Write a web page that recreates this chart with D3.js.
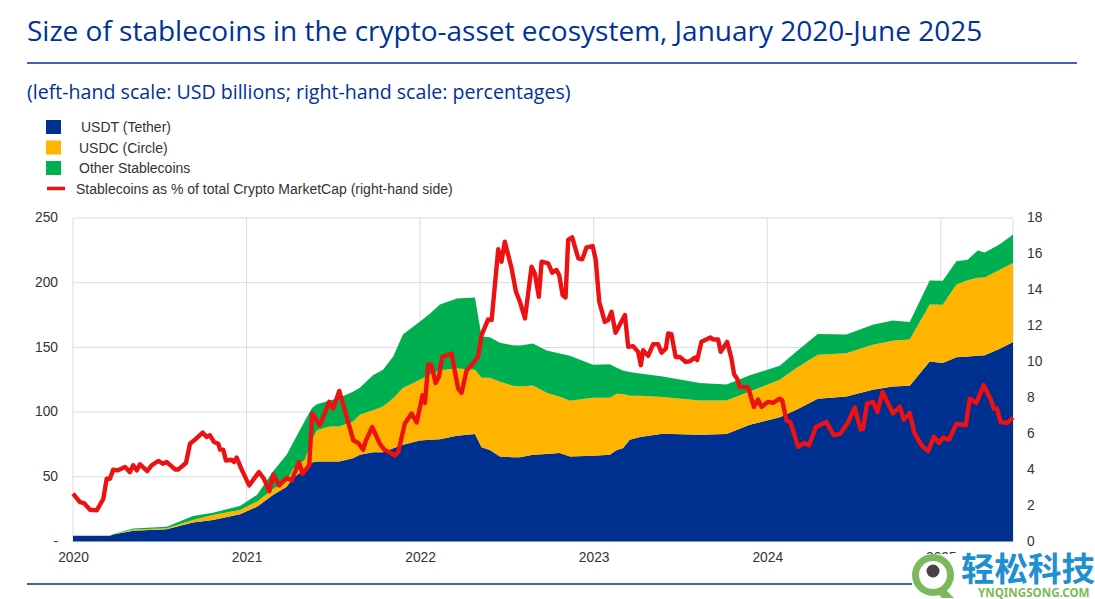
<!DOCTYPE html>
<html>
<head>
<meta charset="utf-8">
<script src="https://cdn.jsdelivr.net/npm/d3@7"></script>
<style>
  html, body { margin: 0; background: #fff; }
</style>
</head>
<body>
<div id="chart"></div>
<script>
// areas (fractional year, USD billions)
const areaYears = [2020.000, 2020.213, 2020.232, 2020.347, 2020.540, 2020.691, 2020.806, 2020.962, 2021.060, 2021.152, 2021.231, 2021.267, 2021.336, 2021.377, 2021.405, 2021.480, 2021.534, 2021.613, 2021.653, 2021.728, 2021.786, 2021.845, 2021.901, 2021.999, 2022.056, 2022.114, 2022.212, 2022.316, 2022.354, 2022.402, 2022.460, 2022.534, 2022.575, 2022.650, 2022.729, 2022.805, 2022.863, 2022.995, 2023.093, 2023.133, 2023.168, 2023.208, 2023.266, 2023.398, 2023.612, 2023.765, 2023.900, 2024.072, 2024.168, 2024.291, 2024.456, 2024.608, 2024.723, 2024.821, 2024.936, 2025.011, 2025.090, 2025.155, 2025.213, 2025.253, 2025.340, 2025.416]
const usdt = [4.5, 4.5, 5.4, 8.4, 9.4, 14.6, 16.6, 21.1, 26.9, 36, 42.4, 48.9, 56.1, 61.1, 61.8, 61.8, 61.8, 64.4, 67, 69, 69, 72.1, 74.7, 78, 78.6, 79.1, 81.7, 83, 72.9, 70.8, 65.6, 65.2, 65.2, 67, 67.7, 68.3, 65.6, 66.2, 67, 70.8, 72.1, 78.6, 80.7, 83.2, 82.4, 83, 90.2, 96.1, 101.8, 110.3, 112.1, 117.3, 119.8, 120.4, 139.2, 137.9, 142.3, 143, 143.6, 144, 149, 154.2]
const usdc = [0, 0, 0.2, 0.9, 0.8, 2.1, 3.9, 3.3, 3.9, 4.6, 3.9, 7.2, 7, 17.3, 24.1, 27.1, 27.1, 28.3, 31, 32.4, 35.3, 38.7, 43.9, 47, 50.3, 53.2, 51.9, 49.8, 53.6, 55.7, 57.8, 55.2, 54.6, 53.6, 47.2, 43.6, 43.1, 44.9, 44.1, 43.3, 41.8, 34, 32, 28.4, 26.6, 26, 25.8, 28.9, 32.2, 34.1, 33.4, 34.8, 35.4, 35.7, 43.9, 45.1, 56.3, 58.8, 60.3, 60.1, 61.1, 61.1]
const others = [0, 0, 0.2, 0.8, 1.2, 3.1, 1.8, 3.1, 5.2, 13.4, 20.7, 20.1, 30.2, 24.8, 20.1, 20.1, 22.2, 23, 20.9, 27.1, 28.4, 32.2, 41.3, 45.1, 47.2, 50.9, 54.2, 55.7, 32, 31.4, 30.2, 31.2, 31.7, 32.5, 32.8, 33.3, 34.8, 25.5, 25.8, 20.1, 18.3, 18.3, 17.1, 15.9, 13.5, 12.4, 12.4, 10.8, 12.8, 16, 14.5, 15.5, 15.5, 13.5, 18.6, 18.6, 18, 16, 21, 19.3, 19.7, 21.9]

// red line (fractional year, percent)
const shareYears = [2020.000, 2020.040, 2020.063, 2020.098, 2020.137, 2020.175, 2020.194, 2020.213, 2020.232, 2020.259, 2020.300, 2020.328, 2020.347, 2020.367, 2020.386, 2020.428, 2020.453, 2020.491, 2020.517, 2020.540, 2020.588, 2020.607, 2020.651, 2020.674, 2020.703, 2020.747, 2020.770, 2020.789, 2020.812, 2020.837, 2020.847, 2020.866, 2020.881, 2020.914, 2020.927, 2020.943, 2020.972, 2021.015, 2021.071, 2021.100, 2021.131, 2021.154, 2021.188, 2021.231, 2021.260, 2021.302, 2021.323, 2021.361, 2021.378, 2021.423, 2021.476, 2021.499, 2021.534, 2021.577, 2021.615, 2021.644, 2021.672, 2021.688, 2021.724, 2021.768, 2021.793, 2021.855, 2021.874, 2021.912, 2021.951, 2021.980, 2022.014, 2022.028, 2022.047, 2022.066, 2022.089, 2022.108, 2022.127, 2022.181, 2022.219, 2022.239, 2022.268, 2022.297, 2022.335, 2022.354, 2022.392, 2022.412, 2022.450, 2022.469, 2022.488, 2022.527, 2022.552, 2022.575, 2022.604, 2022.642, 2022.661, 2022.684, 2022.700, 2022.738, 2022.761, 2022.786, 2022.801, 2022.821, 2022.838, 2022.853, 2022.876, 2022.911, 2022.934, 2022.959, 2022.994, 2023.012, 2023.032, 2023.064, 2023.083, 2023.103, 2023.126, 2023.180, 2023.199, 2023.227, 2023.256, 2023.272, 2023.285, 2023.314, 2023.343, 2023.371, 2023.391, 2023.416, 2023.429, 2023.448, 2023.472, 2023.496, 2023.531, 2023.554, 2023.583, 2023.596, 2023.621, 2023.673, 2023.688, 2023.717, 2023.732, 2023.769, 2023.794, 2023.809, 2023.826, 2023.842, 2023.890, 2023.923, 2023.947, 2023.967, 2024.005, 2024.034, 2024.072, 2024.086, 2024.111, 2024.134, 2024.178, 2024.211, 2024.241, 2024.280, 2024.341, 2024.383, 2024.422, 2024.466, 2024.504, 2024.537, 2024.552, 2024.575, 2024.610, 2024.635, 2024.664, 2024.725, 2024.764, 2024.787, 2024.821, 2024.846, 2024.889, 2024.927, 2024.961, 2024.990, 2025.013, 2025.048, 2025.090, 2025.144, 2025.167, 2025.205, 2025.247, 2025.286, 2025.305, 2025.324, 2025.344, 2025.382, 2025.416]
const shareValues = [2.66, 2.19, 2.14, 1.77, 1.73, 2.38, 3.49, 3.49, 4.0, 3.96, 4.14, 3.86, 4.24, 3.96, 4.29, 3.92, 4.24, 4.48, 4.33, 4.42, 4.01, 4.01, 4.37, 5.44, 5.67, 6.06, 5.82, 5.91, 5.54, 5.44, 5.11, 5.11, 4.51, 4.55, 4.42, 4.67, 4.0, 3.12, 3.86, 3.49, 2.8, 3.73, 3.12, 3.53, 3.4, 4.42, 3.77, 4.24, 7.12, 6.47, 7.77, 7.4, 8.38, 6.93, 5.63, 5.48, 5.11, 5.63, 6.37, 5.44, 5.11, 4.79, 4.98, 6.56, 7.12, 6.62, 8.14, 7.71, 9.87, 9.81, 8.82, 9.16, 10.27, 10.46, 8.51, 8.27, 9.53, 9.81, 10.31, 11.48, 12.36, 12.32, 16.26, 15.57, 16.68, 15.2, 13.9, 13.34, 12.41, 15.29, 14.92, 13.62, 15.57, 15.48, 14.96, 15.11, 14.83, 13.71, 13.58, 16.78, 16.93, 15.76, 15.7, 16.37, 16.44, 15.66, 13.34, 12.22, 12.32, 12.78, 11.61, 12.6, 10.83, 10.87, 10.55, 9.81, 10.65, 10.33, 10.98, 10.98, 10.5, 10.74, 11.58, 11.54, 10.27, 10.27, 9.99, 10.03, 10.24, 10.09, 11.11, 11.35, 11.24, 11.24, 10.55, 11.11, 10.18, 9.31, 9.07, 8.6, 8.57, 7.49, 7.9, 7.49, 7.77, 7.71, 7.95, 7.86, 6.74, 6.62, 5.26, 5.48, 5.35, 6.37, 6.65, 5.91, 6.0, 6.65, 7.45, 6.23, 6.28, 7.67, 7.77, 7.21, 8.32, 7.12, 7.49, 6.78, 7.15, 6.09, 5.35, 5.03, 5.82, 5.48, 5.78, 5.67, 6.56, 6.47, 7.95, 7.71, 8.7, 7.95, 7.4, 7.4, 6.65, 6.59, 6.9]

const yearTicks = [2020, 2021, 2022, 2023, 2024, 2025]
const leftTicks = [0, 50, 100, 150, 200, 250]
const rightTicks = [0, 2, 4, 6, 8, 10, 12, 14, 16, 18]
const legendLabels = ['USDT (Tether)', 'USDC (Circle)', 'Other Stablecoins']
const lineLabel = 'Stablecoins as % of total Crypto MarketCap (right-hand side)'

const blue = '#003299'
const colors = ['#00308f', '#ffb400', '#00b050']
const red = '#ee1111'

const dimensions = {
    width: 1095,
    height: 599,
    margin: { top: 218, bottom: 57.5, left: 73, right: 82 }
}
const plotBottom = dimensions.height - dimensions.margin.bottom
const plotRight = dimensions.width - dimensions.margin.right

const svg = d3.select('#chart')
    .append('svg')
    .attr('width', dimensions.width)
    .attr('height', dimensions.height)
    .style('display', 'block')

// headings
const headFont = '"Open Sans", "Noto Sans", sans-serif'
svg.append('text')
    .attr('x', 27).attr('y', 41)
    .attr('font-family', headFont).attr('font-size', 28)
    .attr('fill', blue)
    .text('Size of stablecoins in the crypto-asset ecosystem, January 2020-June 2025')
svg.append('text')
    .attr('x', 27).attr('y', 98.5)
    .attr('font-family', headFont).attr('font-size', 19.6)
    .attr('fill', blue)
    .text('(left-hand scale: USD billions; right-hand scale: percentages)')
svg.append('line')
    .attr('x1', 27).attr('x2', 1077).attr('y1', 63).attr('y2', 63)
    .attr('stroke', blue).attr('stroke-width', 1.5)
svg.append('line')
    .attr('x1', 27).attr('x2', 1077).attr('y1', 584).attr('y2', 584)
    .attr('stroke', blue).attr('stroke-width', 1.5)

// scales
const x = d3.scaleLinear()
    .domain([2020, 2025.416])
    .range([dimensions.margin.left, plotRight])
const yLeft = d3.scaleLinear().domain([0, 250]).range([plotBottom, dimensions.margin.top])
const yRight = d3.scaleLinear().domain([0, 18]).range([plotBottom, dimensions.margin.top])

// grid
const ctr = svg.append('g')
const grid = ctr.append('g')
    .attr('stroke', '#dcdcdc').attr('stroke-width', 1)
grid.selectAll('.h').data(leftTicks.slice(1)).join('line')
    .attr('x1', x.range()[0]).attr('x2', x.range()[1])
    .attr('y1', d => yLeft(d)).attr('y2', d => yLeft(d))
grid.selectAll('.v').data(yearTicks).join('line')
    .attr('x1', d => x(d)).attr('x2', d => x(d))
    .attr('y1', yLeft(250)).attr('y2', yLeft(0))
grid.append('line')
    .attr('x1', plotRight).attr('x2', plotRight)
    .attr('y1', yLeft(250)).attr('y2', yLeft(0))

// stacked areas
const table = areaYears.map((year, i) => ({ year, usdt: usdt[i], usdc: usdc[i], others: others[i] }))
const stacked = d3.stack().keys(['usdt', 'usdc', 'others'])(table)
const area = d3.area()
    .x(d => x(d.data.year))
    .y0(d => yLeft(d[0]))
    .y1(d => yLeft(d[1]))
ctr.selectAll('.band').data(stacked).join('path')
    .attr('class', 'band')
    .attr('d', area)
    .attr('fill', (d, i) => colors[i])

// red line
const line = d3.line()
    .x((d, i) => x(shareYears[i]))
    .y(d => yRight(d))
ctr.append('path')
    .datum(shareValues)
    .attr('d', line)
    .attr('fill', 'none')
    .attr('stroke', red)
    .attr('stroke-width', 4.4)
    .attr('stroke-linejoin', 'round')

// axes
const axisFont = '"Liberation Sans", Arial, sans-serif'
const leftAxis = d3.axisLeft(yLeft)
    .tickValues(leftTicks)
    .tickSize(0)
    .tickPadding(15)
    .tickFormat(d => d === 0 ? '-' : d)
const rightAxis = d3.axisRight(yRight)
    .tickValues(rightTicks)
    .tickSize(0)
    .tickPadding(14)
const bottomAxis = d3.axisBottom(x)
    .tickValues(yearTicks)
    .tickSize(0)
    .tickPadding(10.5)
    .tickFormat(d3.format('d'))

const axes = [
    [leftAxis, `translate(${dimensions.margin.left},-0.7)`],
    [rightAxis, `translate(${plotRight},-0.7)`],
    [bottomAxis, `translate(0,${plotBottom})`]
]
axes.forEach(([axis, transform]) => {
    const g = svg.append('g').attr('transform', transform).call(axis)
    g.select('.domain').remove()
    g.selectAll('text')
        .attr('font-family', axisFont).attr('font-size', 13.8)
        .attr('fill', '#333')
})

// legend
const legend = svg.append('g')
    .attr('font-family', axisFont).attr('font-size', 14).attr('fill', '#333')
const legendRows = [127, 147.5, 168]
const labelStart = [81, 79, 79]
legendLabels.forEach((label, i) => {
    legend.append('rect')
        .attr('x', 46).attr('y', legendRows[i] - 7)
        .attr('width', 15).attr('height', 14)
        .attr('fill', colors[i])
    legend.append('text')
        .attr('x', labelStart[i]).attr('y', legendRows[i] + 5)
        .text(label)
})
legend.append('line')
    .attr('x1', 47).attr('x2', 65).attr('y1', 188.5).attr('y2', 188.5)
    .attr('stroke', red).attr('stroke-width', 3.5)
legend.append('text')
    .attr('x', 76).attr('y', 193.5)
    .text(lineLabel)

// watermark sits on top of the 2025 label and the bottom rule
const mark = svg.append('g')
mark.append('rect')
    .attr('x', 912).attr('y', 554).attr('width', 183).attr('height', 45)
    .attr('fill', '#fff')
mark.append('circle')
    .attr('cx', 933).attr('cy', 575).attr('r', 17.5)
    .attr('fill', '#fff').attr('stroke', '#7cb95c').attr('stroke-width', 7)
mark.append('path')
    .attr('d', 'M944 588 L954 598 L942 598 L936 592 Z')
    .attr('fill', '#7cb95c')
mark.append('circle')
    .attr('cx', 933).attr('cy', 571).attr('r', 6.5)
    .attr('fill', '#444')
mark.append('text')
    .attr('x', 961).attr('y', 581)
    .attr('font-family', '"Noto Sans CJK SC", sans-serif')
    .attr('font-weight', 700).attr('font-size', 33.5)
    .attr('fill', '#1e8fd0')
    .text('轻松科技')
mark.append('text')
    .attr('x', 978).attr('y', 597)
    .attr('font-family', '"Noto Sans", sans-serif')
    .attr('font-weight', 700).attr('font-size', 11.6)
    .attr('fill', '#7cb95c')
    .text('YNQINGSONG.COM')
</script>
</body>
</html>
